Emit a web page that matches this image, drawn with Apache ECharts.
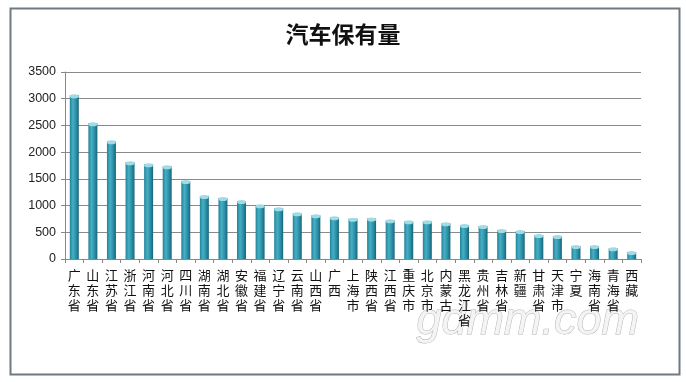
<!DOCTYPE html>
<html>
<head>
<meta charset="utf-8">
<script src="https://cdn.jsdelivr.net/npm/echarts@6/dist/echarts.min.js"></script>
<style>
html,body{margin:0;padding:0;background:#fff;}
#chart{width:686px;height:382px;}
</style>
</head>
<body>
<div id="chart"></div>
<script>
var titleText = '汽车保有量';
var categories = ['广东省','山东省','江苏省','浙江省','河南省','河北省','四川省','湖南省','湖北省','安徽省','福建省','辽宁省','云南省','山西省','广西','上海市','陕西省','江西省','重庆市','北京市','内蒙古','黑龙江省','贵州省','吉林省','新疆','甘肃省','天津市','宁夏','海南省','青海省','西藏'];
var values = [3066,2541,2204,1811,1774,1736,1461,1180,1142,1086,1006,950,855,817,780,755,760,723,705,705,667,636,618,543,524,449,430,243,243,200,131];
var yTicks = [0,500,1000,1500,2000,2500,3000,3500];

var chart = echarts.init(document.getElementById('chart'), null, {renderer:'canvas'});
var barGrad = new echarts.graphic.LinearGradient(0,0,1,0,[
  {offset:0,color:'#23839a'},
  {offset:0.35,color:'#46afc3'},
  {offset:0.7,color:'#2a8ea6'},
  {offset:1,color:'#196477'}
]);
chart.setOption({
  backgroundColor:'#ffffff',
  animation:false,
  title:{
    text:titleText,
    left:'center',
    top:18,
    textStyle:{fontFamily:'Noto Sans CJK SC',fontSize:23,fontWeight:'bold',color:'#111'}
  },
  grid:{left:65,right:45,top:72,bottom:123},
  xAxis:{
    type:'category',
    data:categories,
    axisLine:{lineStyle:{color:'#888',width:1}},
    axisTick:{show:true,length:4,lineStyle:{color:'#888'}},
    axisLabel:{
      interval:0,
      margin:9,
      fontFamily:'Noto Sans CJK SC',
      fontSize:13,
      lineHeight:15,
      color:'#111',
      formatter:function(v){return v.split('').join('\n');}
    }
  },
  yAxis:{
    type:'value',
    min:0,max:3500,interval:500,
    axisLine:{show:true,lineStyle:{color:'#888'}},
    axisTick:{show:true,length:4,lineStyle:{color:'#888'}},
    axisLabel:{margin:9,fontFamily:'Liberation Sans',fontSize:12.5,color:'#222',
      formatter:function(v){return yTicks.indexOf(v)>=0?String(v):'';}},
    splitLine:{show:true,lineStyle:{color:'#8a8a8a',width:1}}
  },
  series:[
    {type:'bar',data:values,barWidth:9,itemStyle:{color:barGrad},z:2},
    {type:'pictorialBar',data:values,symbol:'circle',symbolSize:[9,4],symbolPosition:'end',
     symbolOffset:[0,-1],itemStyle:{color:'#9fdce6'},z:3}
  ],
  graphic:[
    {type:'rect',left:8,top:6,shape:{width:669,height:366},
     style:{fill:'none',stroke:'#6f7a80',lineWidth:2},z:10},
    {type:'text',left:416,top:298,z:0,zlevel:0,
     style:{text:'gdmm.com',font:'italic 45px "Liberation Sans"',fill:'#f4f4f4',stroke:'#b5b5b5',lineWidth:1}}
  ]
});
</script>
</body>
</html>
